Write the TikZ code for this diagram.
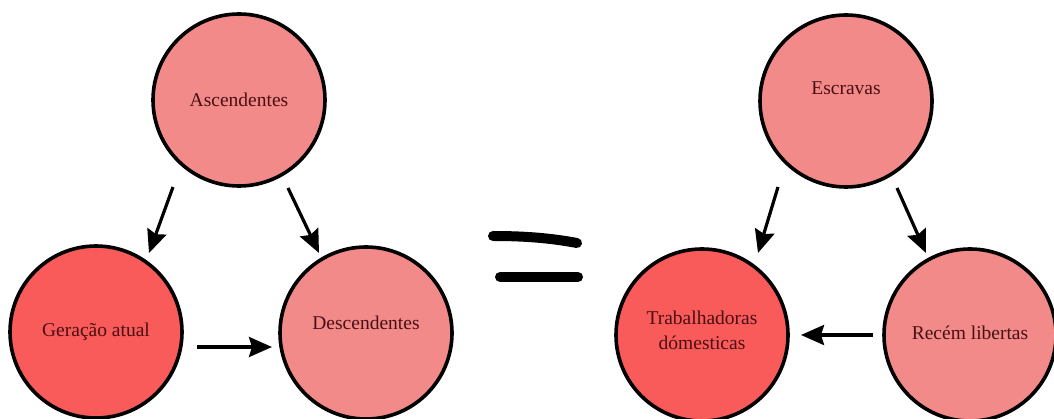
\documentclass[tikz,border=0pt]{standalone}
\usepackage{fontspec}
\setmainfont{Liberation Serif}
\usetikzlibrary{arrows.meta,calc}
\definecolor{lightred}{HTML}{F28A8A}
\definecolor{darkred}{HTML}{F95A5A}
\definecolor{txt}{HTML}{4A0F12}
\tikzset{
  circ/.style={circle,draw=black,line width=3.6pt,minimum size=172pt,inner sep=0pt},
  lt/.style={circ,fill=lightred},
  dk/.style={circ,fill=darkred},
  lbl/.style={text=txt,font=\fontsize{19.5}{25}\selectfont,align=center,inner sep=0pt},
  arr/.style={line width=3.2pt,-{Stealth[length=23pt,width=20pt,inset=3pt]}},
  eqbar/.style={line width=10pt,line cap=round}
}
\begin{document}
\begin{tikzpicture}[x=1pt,y=-1pt]
\useasboundingbox (0,0) rectangle (1054,419);
% left
\node[lt] (asc) at (239,100) {};
\node[dk] (ger) at (96,332) {};
\node[lt] (desc) at (366,333) {};
\node[lbl] (tasc) at (asc) {Ascendentes};
\node[lbl] (tger) at (ger) {Geração atual};
\node[lbl] (tdesc) at ($(desc)+(0,-10)$) {Descendentes};
\coordinate (a1s) at ($(asc)+(-66,87)$);
\coordinate (a1e) at ($(ger)+(53,-79)$);
\coordinate (a2s) at ($(asc)+(49,88)$);
\coordinate (a2e) at ($(desc)+(-47,-80)$);
\coordinate (a3s) at ($(ger)+(101,15)$);
\coordinate (a3e) at ($(desc)+(-94,14)$);
\draw[arr] (a1s) -- (a1e);
\draw[arr] (a2s) -- (a2e);
\draw[arr] (a3s) -- (a3e);
% equals
\coordinate (e1a) at (493,236);
\coordinate (e1b) at (577,243);
\coordinate (e2a) at (500,277);
\coordinate (e2b) at (578,277);
\draw[eqbar] (e1a) .. controls (525,236) and (550,238) .. (e1b);
\draw[eqbar] (e2a) -- (e2b);
% right
\node[lt] (esc) at (846,101) {};
\node[dk] (trab) at (702,335) {};
\node[lt] (rec) at (970,335) {};
\node[lbl] (tesc) at ($(esc)+(0,-13)$) {Escravas};
\node[lbl] (ttrab) at ($(trab)+(0,-5)$) {Trabalhadoras\\dómesticas};
\node[lbl] (trec) at ($(rec)+(0,-2)$) {Recém libertas};
\coordinate (b1s) at ($(esc)+(-68,86)$);
\coordinate (b1e) at ($(trab)+(56,-82)$);
\coordinate (b2s) at ($(esc)+(51,87)$);
\coordinate (b2e) at ($(rec)+(-44,-82)$);
\coordinate (b3s) at ($(rec)+(-97,0)$);
\coordinate (b3e) at ($(trab)+(99,0)$);
\draw[arr] (b1s) -- (b1e);
\draw[arr] (b2s) -- (b2e);
\draw[arr] (b3s) -- (b3e);
\end{tikzpicture}
\end{document}
